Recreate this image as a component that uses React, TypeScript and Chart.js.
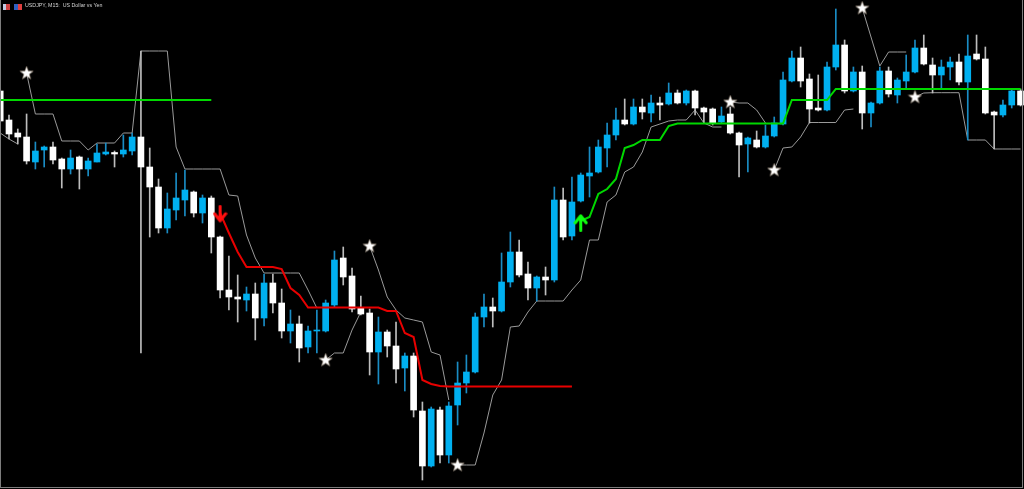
import React, { useEffect, useRef } from "react";
import { Chart, registerables } from "chart.js";

Chart.register(...registerables);

// ---- candle data (USDJPY M15, price units) ----
const open = [
  409, 380, 367, 363, 338, 350, 353, 341, 331, 343, 331, 338, 346, 347.5, 346, 349, 363, 333, 313, 272,
  290, 300, 308, 287, 302, 263, 210, 203, 200, 206, 182, 217, 197, 169, 176, 153, 169, 169, 195, 242,
  224, 192, 187, 148, 168, 154, 132, 144, 89, 34, 90, 45, 95, 117, 128, 183, 193, 189, 218, 248,
  226, 212, 223, 220, 300, 264, 299, 324, 328, 352, 365, 380, 376, 393, 387, 397, 396, 407, 397, 409,
  392, 391, 378, 386, 367, 356, 360, 353, 364, 376, 419, 442, 421, 392, 390, 433, 455, 409, 428, 387,
  397, 429, 405, 419, 428, 452, 435, 425, 433, 438, 418, 446, 441, 388, 385, 395, 409,
];
const high = [
  411, 385, 371, 386, 358, 354, 358, 342, 350, 344, 342, 356, 357, 349, 365, 367, 449, 352, 321, 307,
  327, 330, 309, 305, 304, 264, 244, 225, 213, 217, 226, 226, 211, 190, 184, 174, 190, 200, 249, 253,
  232, 204, 191, 183, 170, 178, 147, 147, 98, 93, 93, 98, 138, 145, 187, 206, 202, 247, 268, 260,
  238, 224, 233, 313, 312, 323, 327, 353, 360, 377, 392, 401, 401, 401, 405, 403, 417, 410, 410, 410,
  393, 392, 393, 393, 368, 363, 369, 375, 383, 428, 449, 453, 426, 425, 438, 491, 460, 433, 434, 398,
  433, 433, 422, 445, 460, 465, 442, 440, 443, 446, 465, 465, 453, 389, 400, 411, 411,
];
const low = [
  378, 361, 356, 336, 331, 333, 336, 312, 326, 311, 324, 338, 345, 333, 343, 345, 147, 263, 267, 267,
  280, 284, 283, 277, 247, 202, 190, 178, 189, 160, 174, 187, 162, 157, 138, 147, 147, 168, 193, 215,
  188, 185, 125, 116, 143, 117, 109, 83, 20, 33, 37, 37, 75, 107, 127, 173, 173, 188, 213, 223,
  200, 199, 205, 218, 260, 260, 298, 303, 327, 333, 360, 375, 375, 381, 378, 380, 395, 396, 395, 385,
  377, 375, 377, 366, 323, 328, 352, 352, 363, 375, 418, 413, 377, 389, 389, 430, 407, 408, 371, 373,
  396, 403, 397, 411, 427, 435, 407, 412, 420, 415, 360, 440, 386, 351, 383, 392, 394,
];
const close = [
  379, 366, 363, 339, 349, 353, 340, 331, 342, 331, 339, 347, 348, 346, 350, 363, 333, 313, 272, 291,
  302, 310, 287, 302, 263, 210, 203, 201, 206, 182, 217, 197, 169, 176, 152, 169, 170, 197, 240, 223,
  191, 186, 148, 168, 154, 131, 144, 90, 34, 91, 45, 94, 117, 128, 183, 193, 189, 218, 248, 225,
  212, 223, 220, 300, 263, 298, 325, 327, 353, 365, 380, 376, 393, 388, 397, 395, 407, 397, 409, 392,
  388, 377, 384, 367, 355, 362, 353, 364, 377, 420, 442, 419, 391, 390, 433, 455, 409, 428, 387, 397,
  429, 406, 420, 428, 452, 436, 425, 433, 438, 418, 444, 441, 387, 385, 395, 409, 395,
];

// ---- indicator lines: each segment starts at bar `from` ----
const grayUpperSegments = [
  { from: 3, values: [427, 386, 386, 386, 359, 359, 359, 350, 357, 357, 357, 367, 367, 449, 449, 449, 449, 353, 331, 331, 331, 331, 331, 305, 304, 265, 242, 227, 227, 227, 227, 227, 210, 192] },
  { from: 42, values: [254, 230, 203, 190, 182, 180, 178, 148, 145, 100] },
  { from: 83, values: [398, 397, 397, 390, 377] },
  { from: 98, values: [492, 463, 434, 448, 448, 448] },
];
const grayLowerSegments = [
  { from: 0, values: [367, 361, 356] },
  { from: 37, values: [140, 147, 147, 170, 188] },
  { from: 52, values: [35, 35, 35, 67, 105, 120, 173, 174, 188, 199, 199, 199, 199, 210, 220, 260, 260, 298, 305, 328, 333, 348, 373, 376, 379, 380, 380, 390, 377, 373, 373] },
  { from: 88, values: [330, 352, 353, 363, 377.5, 377.5, 377.5, 377.5, 390, 391] },
  { from: 104, values: [403, 407, 407.3, 407.3, 407.3, 407.3, 360, 360, 360, 351, 351, 351, 351] },
];
const redStopSegments = [
  { from: 25, values: [287, 267, 248, 233, 233, 233, 233, 231, 212, 205, 192.5, 192.5, 192.5, 192.5, 192.5, 192.5, 192.5, 192.5, 192.5, 189, 189, 167, 163, 120, 116, 114, 113.5, 113.5, 113.5, 113.5, 113.5, 113.5, 113.5, 113.5, 113.5, 113.5, 113.5, 113.5, 113.5, 113.5, 113.5] },
];
const greenStopSegments = [
  { from: 0, values: [400, 400, 400, 400, 400, 400, 400, 400, 400, 400, 400, 400, 400, 400, 400, 400, 400, 400, 400, 400, 400, 400, 400, 400, 400] },
  { from: 66, values: [279, 283, 306, 311, 321, 352, 355, 360, 360, 360, 374, 376.5, 376.5, 376.5, 376.5, 376.5, 376.5, 376.5, 376.5, 376.5, 376.5, 376.5, 376.5, 376.5, 400, 400, 400, 400, 400, 411, 411, 411, 411, 411, 411, 411, 411, 411, 411, 411, 411, 411, 411, 411, 411, 411, 411, 411, 411, 411, 411] },
];

// ---- signal marks ----
const starBars = [3, 37, 42, 52, 83, 88, 98, 104];
const starLevels = [427, 140, 254, 35, 398, 330, 492, 403];
const sellArrowBars = [25];
const sellArrowLevels = [286.3];
const buyArrowBars = [66];
const buyArrowLevels = [277.2];

const TITLE = "USDJPY, M15:  US Dollar vs Yen";

const BULL = "#00b0f0";
const BEAR = "#ffffff";
const BULL_WICK = "#1a8cc4";
const BEAR_WICK = "#bdbdbd";

function segPoints(segs: { from: number; values: number[] }[]) {
  const pts: { x: number; y: number | null }[] = [];
  segs.forEach((s, k) => {
    if (k > 0) pts.push({ x: s.from - 0.5, y: null });
    s.values.forEach((v, i) => pts.push({ x: s.from + i, y: v }));
  });
  return pts;
}

function makeStar(): HTMLCanvasElement {
  const c = document.createElement("canvas");
  c.width = 15;
  c.height = 15;
  const g = c.getContext("2d")!;
  g.beginPath();
  for (let i = 0; i < 10; i++) {
    const r = i % 2 === 0 ? 7 : 2.9;
    const a = -Math.PI / 2 + (i * Math.PI) / 5;
    const px = 7.5 + r * Math.cos(a);
    const py = 7.8 + r * Math.sin(a);
    if (i === 0) g.moveTo(px, py);
    else g.lineTo(px, py);
  }
  g.closePath();
  g.fillStyle = "#ffffff";
  g.fill();
  g.lineWidth = 0.6;
  g.strokeStyle = "#8a7a6a";
  g.stroke();
  return c;
}

function makeArrow(color: string, down: boolean): HTMLCanvasElement {
  const c = document.createElement("canvas");
  c.width = 15;
  c.height = 18;
  const g = c.getContext("2d")!;
  g.strokeStyle = color;
  g.lineWidth = 3;
  g.lineCap = "round";
  g.lineJoin = "round";
  g.beginPath();
  if (down) {
    g.moveTo(7.5, 1.5);
    g.lineTo(7.5, 16);
    g.moveTo(2, 9);
    g.lineTo(7.5, 16);
    g.lineTo(13, 9);
  } else {
    g.moveTo(7.5, 16.5);
    g.lineTo(7.5, 2);
    g.moveTo(2, 9);
    g.lineTo(7.5, 2);
    g.lineTo(13, 9);
  }
  g.stroke();
  return c;
}

export default function App() {
  const ref = useRef<HTMLCanvasElement | null>(null);

  useEffect(() => {
    if (!ref.current) return;
    const bars = open.map((_, i) => i);
    const isBull = bars.map((i) => close[i] >= open[i]);
    const star = makeStar();
    const sellArrow = makeArrow("#ff1010", true);
    const buyArrow = makeArrow("#10ff10", false);

    const chart = new Chart(ref.current, {
      type: "bar",
      data: {
        datasets: [
          {
            type: "scatter" as any,
            label: "sell",
            data: sellArrowBars.map((b, i) => ({ x: b, y: sellArrowLevels[i] })),
            pointStyle: sellArrow as any,
            pointRadius: 8,
            order: 0,
          },
          {
            type: "scatter" as any,
            label: "buy",
            data: buyArrowBars.map((b, i) => ({ x: b, y: buyArrowLevels[i] })),
            pointStyle: buyArrow as any,
            pointRadius: 8,
            order: 0,
          },
          {
            type: "scatter" as any,
            label: "stars",
            data: starBars.map((b, i) => ({ x: b, y: starLevels[i] })),
            pointStyle: star as any,
            pointRadius: 8,
            order: 1,
          },
          {
            type: "line" as any,
            label: "red stop",
            data: segPoints(redStopSegments) as any,
            borderColor: "#e80000",
            borderWidth: 2,
            pointRadius: 0,
            tension: 0,
            spanGaps: false,
            order: 2,
          },
          {
            type: "line" as any,
            label: "green stop",
            data: segPoints(greenStopSegments) as any,
            borderColor: "#00d800",
            borderWidth: 2,
            pointRadius: 0,
            tension: 0,
            spanGaps: false,
            order: 2,
          },
          {
            label: "bodies",
            data: bars.map((i) => ({ x: i, y: [open[i], close[i]] })) as any,
            backgroundColor: bars.map((i) => (isBull[i] ? BULL : BEAR)),
            borderWidth: 0,
            barThickness: 6,
            grouped: false,
            order: 3,
          },
          {
            label: "wicks",
            data: bars.map((i) => ({ x: i, y: [low[i], high[i]] })) as any,
            backgroundColor: bars.map((i) => (isBull[i] ? BULL_WICK : BEAR_WICK)),
            borderWidth: 0,
            barThickness: 1,
            grouped: false,
            order: 4,
          },
          {
            type: "line" as any,
            label: "upper channel",
            data: segPoints(grayUpperSegments) as any,
            borderColor: "#9a9a9a",
            borderWidth: 1,
            pointRadius: 0,
            tension: 0,
            spanGaps: false,
            order: 5,
          },
          {
            type: "line" as any,
            label: "lower channel",
            data: segPoints(grayLowerSegments) as any,
            borderColor: "#9a9a9a",
            borderWidth: 1,
            pointRadius: 0,
            tension: 0,
            spanGaps: false,
            order: 5,
          },
        ],
      },
      options: {
        responsive: false,
        animation: false,
        devicePixelRatio: 1,
        layout: { padding: 0, autoPadding: false } as any,
        plugins: {
          legend: { display: false },
          tooltip: { enabled: false },
          title: { display: false },
        },
        scales: {
          x: { type: "linear", display: false, min: -0.0227, max: 116.394, offset: false },
          y: { type: "linear", display: false, min: 11, max: 500 },
        },
      },
    });
    return () => chart.destroy();
  }, []);

  return (
    <div style={{ position: "fixed", left: 0, top: 0, width: 1024, height: 489, background: "#000", overflow: "hidden" }}>
      <canvas ref={ref} width={1024} height={489} style={{ position: "absolute", left: 0, top: 0, width: 1024, height: 489 }} />
      <div style={{ position: "absolute", left: 0, top: 0, width: 1023, height: 488, boxSizing: "border-box", borderLeft: "1px solid #7d7d7d", borderRight: "1px solid #7d7d7d", borderBottom: "1px solid #7d7d7d", pointerEvents: "none" }} />
      <div style={{ position: "absolute", left: 3, top: 4, width: 7, height: 6, background: "linear-gradient(90deg,#c0c8e0 0 45%,#d04040 45% 100%)" }} />
      <div style={{ position: "absolute", left: 14, top: 4, width: 8, height: 6, background: "linear-gradient(90deg,#3060c0 0 50%,#e04040 50% 100%)" }} />
      <div style={{ position: "absolute", left: 25, top: 3, color: "#d4d4d4", fontFamily: '"Liberation Sans", Arial, sans-serif', fontSize: 8, lineHeight: "8px", whiteSpace: "pre", transform: "scale(0.66)", transformOrigin: "left top" }}>
        {TITLE}
      </div>
    </div>
  );
}
